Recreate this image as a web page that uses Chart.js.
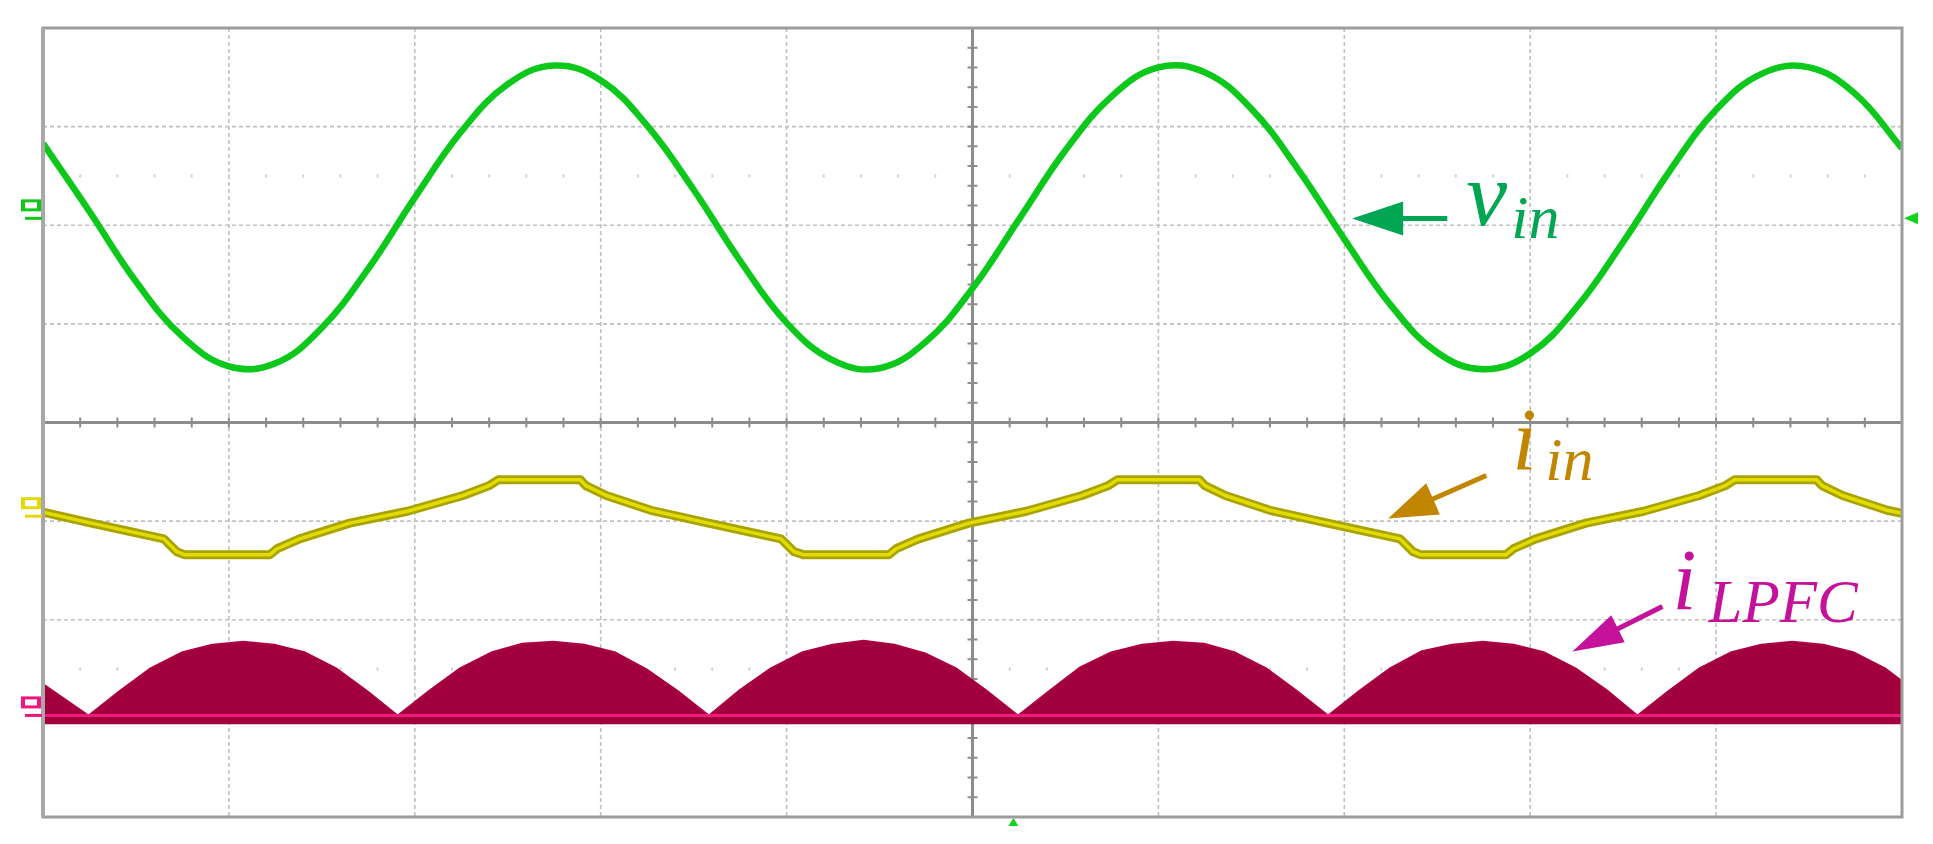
<!DOCTYPE html>
<html>
<head>
    <title>vin / iin / iLPFC</title>
    <script src="https://cdn.jsdelivr.net/npm/chart.js"></script>
    <style>
        body { margin: 0; background: #ffffff; }
        canvas { display: block; }
    </style>
</head>
<body>
    <canvas id="chart" width="1933" height="844"></canvas>

    <script>
        // 时间轴: 0..10 格, 纵轴: -4..4 格
        var vinT = [0, 0.25, 0.5, 0.75, 1, 1.25, 1.5, 1.75, 2, 2.25, 2.5, 2.75, 3, 3.25, 3.5, 3.75, 4, 4.25, 4.5, 4.75,
            5, 5.25, 5.5, 5.75, 6, 6.25, 6.5, 6.75, 7, 7.25, 7.5, 7.75, 8, 8.25, 8.5, 8.75, 9, 9.25, 9.5, 9.75, 10];
        var vinV = [2.83, 2.14, 1.43, 0.87, 0.57, 0.60, 0.96, 1.56, 2.28, 2.95, 3.43, 3.62, 3.47, 3.01, 2.36, 1.64, 1.01, 0.63, 0.55, 0.82,
            1.36, 2.06, 2.76, 3.31, 3.60, 3.55, 3.18, 2.57, 1.86, 1.19, 0.71, 0.54, 0.70, 1.17, 1.83, 2.55, 3.17, 3.54, 3.60, 3.33, 2.78];

        var iinT = [0, 0.26, 0.65, 0.72,
            0.76, 1.22, 1.26, 1.38, 1.65, 1.96, 2.26, 2.40, 2.45, 2.89, 2.92, 3.03, 3.27, 3.58, 3.97, 4.04,
            4.09, 4.55, 4.59, 4.71, 4.98, 5.29, 5.59, 5.73, 5.78, 6.22, 6.25, 6.36, 6.60, 6.91, 7.30, 7.37,
            7.41, 7.87, 7.91, 8.03, 8.30, 8.61, 8.91, 9.05, 9.10, 9.54, 9.57, 9.68, 9.92, 10];
        var iinV = [-0.91, -1.02, -1.18, -1.31,
            -1.34, -1.34, -1.28, -1.18, -1.02, -0.90, -0.74, -0.64, -0.58, -0.58, -0.64, -0.74, -0.89, -1.02, -1.18, -1.31,
            -1.34, -1.34, -1.28, -1.18, -1.02, -0.90, -0.74, -0.64, -0.58, -0.58, -0.64, -0.74, -0.89, -1.02, -1.18, -1.31,
            -1.34, -1.34, -1.28, -1.18, -1.02, -0.90, -0.74, -0.64, -0.58, -0.58, -0.64, -0.74, -0.89, -0.92];

        var lpfcT = [0, 0.245, 0.412, 0.578, 0.745, 0.911, 1.078, 1.244, 1.411, 1.577, 1.744,
            1.908, 2.075, 2.243, 2.410, 2.578, 2.745, 2.912, 3.080, 3.247, 3.415,
            3.582, 3.748, 3.915, 4.081, 4.247, 4.414, 4.580, 4.746, 4.912, 5.079,
            5.245, 5.412, 5.579, 5.745, 5.912, 6.079, 6.246, 6.413, 6.580, 6.746,
            6.913, 7.079, 7.246, 7.412, 7.579, 7.745, 7.911, 8.078, 8.244, 8.411,
            8.577, 8.744, 8.910, 9.077, 9.243, 9.410, 9.576, 9.743, 9.909, 10];
        var lpfcV = [-2.65, -2.97, -2.72, -2.49, -2.33, -2.25, -2.22, -2.25, -2.33, -2.49, -2.72,
            -2.97, -2.72, -2.49, -2.33, -2.24, -2.22, -2.25, -2.33, -2.50, -2.72,
            -2.97, -2.71, -2.49, -2.33, -2.25, -2.21, -2.25, -2.34, -2.49, -2.72,
            -2.97, -2.72, -2.48, -2.33, -2.25, -2.22, -2.24, -2.33, -2.49, -2.72,
            -2.97, -2.72, -2.49, -2.32, -2.25, -2.22, -2.25, -2.33, -2.49, -2.71,
            -2.97, -2.72, -2.49, -2.33, -2.25, -2.22, -2.25, -2.33, -2.49, -2.62];

        // 通道零位
        var baseT = [0, 10];
        var baseV = [-2.97, -2.97];
        var lpfcBottom = -3.06;

        // 网格
        var gridX = [1, 2, 3, 4, 6, 7, 8, 9];
        var gridY = [-3, -2, -1, 1, 2, 3];
        var dotRows = [2.5, -2.5];

        // 通道标记 (电平, 颜色)
        var chLevels = [2.07, -0.95, -2.97];
        var chColors = ["#12c61e", "#e4d800", "#f0147f"];

        // 标注: 箭头尖, 箭尾, 主字, 下标
        var notes = [
            { tip: [7.042, 2.069], tail: [7.554, 2.069], head: 51, half: 17, color: "#00a651",
              main: "v", mainAt: [7.656, 1.998], mainSize: 92, sub: "in", subAt: [7.898, 1.866], subSize: 62 },
            { tip: [7.236, -0.974], tail: [7.764, -0.538], head: 49, half: 17, color: "#c28500",
              main: "i", mainAt: [7.904, -0.467], mainSize: 88, sub: "in", subAt: [8.081, -0.578], subSize: 62 },
            { tip: [8.227, -2.323], tail: [8.711, -1.866], head: 51, half: 15, color: "#c5129a",
              main: "i", mainAt: [8.765, -1.886], mainSize: 86, sub: "LPFC", subAt: [8.959, -2.018], subSize: 61 }
        ];

        function pts(t, v) {
            return t.map(function (x, i) { return { x: x, y: v[i] }; });
        }

        var scopePlugin = {
            id: "scope",
            beforeDatasetsDraw: function (chart) {
                var c = chart.ctx, a = chart.chartArea, xs = chart.scales.x, ys = chart.scales.y;
                c.save();
                // 虚线网格
                c.strokeStyle = "#c0c0c0";
                c.lineWidth = 1.6;
                c.setLineDash([4, 3]);
                gridX.forEach(function (v) {
                    var px = xs.getPixelForValue(v);
                    c.beginPath(); c.moveTo(px, a.top); c.lineTo(px, a.bottom); c.stroke();
                });
                gridY.forEach(function (v) {
                    var py = ys.getPixelForValue(v);
                    c.beginPath(); c.moveTo(a.left, py); c.lineTo(a.right, py); c.stroke();
                });
                c.setLineDash([]);
                // 点行
                c.fillStyle = "#cfcfcf";
                dotRows.forEach(function (r) {
                    var py = ys.getPixelForValue(r);
                    for (var k = 1; k < 50; k++) {
                        c.fillRect(xs.getPixelForValue(k * 0.2) - 1, py - 1.5, 2, 3);
                    }
                });
                // 中心轴
                var cx = xs.getPixelForValue(5), cy = ys.getPixelForValue(0);
                c.strokeStyle = "#8c8c8c";
                c.lineWidth = 3;
                c.beginPath();
                c.moveTo(a.left, cy); c.lineTo(a.right, cy);
                c.moveTo(cx, a.top); c.lineTo(cx, a.bottom);
                c.stroke();
                c.lineWidth = 2;
                c.beginPath();
                for (var i = 1; i < 50; i++) {
                    var px = xs.getPixelForValue(i * 0.2);
                    c.moveTo(px, cy - 5); c.lineTo(px, cy + 5);
                }
                for (var j = 1; j < 40; j++) {
                    var py = ys.getPixelForValue(-4 + j * 0.2);
                    c.moveTo(cx - 5, py); c.lineTo(cx + 5, py);
                }
                c.stroke();
                c.restore();
            },
            afterDatasetsDraw: function (chart) {
                var c = chart.ctx, a = chart.chartArea, xs = chart.scales.x, ys = chart.scales.y;
                c.save();
                // 边框
                c.strokeStyle = "#9c9c9c";
                c.lineWidth = 3;
                c.strokeRect(a.left, a.top, a.right - a.left, a.bottom - a.top);
                c.fillStyle = "#a8a8a8";
                c.fillRect(a.left - 2, a.top, 4, a.bottom - a.top);

                // 通道标记
                chLevels.forEach(function (lv, i) {
                    var py = ys.getPixelForValue(lv);
                    c.fillStyle = chColors[i];
                    c.fillRect(25, py - 1.5, 17, 3);
                    c.fillRect(21, py - 19, 20, 12);
                    c.fillStyle = "#ffffff";
                    c.fillRect(25, py - 16, 12, 6);
                });
                // 触发电平 (右) 与触发位置 (下)
                var ty = ys.getPixelForValue(chLevels[0]);
                c.fillStyle = "#12d41e";
                c.beginPath();
                c.moveTo(a.right + 2, ty); c.lineTo(a.right + 16, ty - 6); c.lineTo(a.right + 16, ty + 6);
                c.closePath(); c.fill();
                var tx = xs.getPixelForValue(5.22);
                c.beginPath();
                c.moveTo(tx, a.bottom + 1); c.lineTo(tx - 5, a.bottom + 9); c.lineTo(tx + 5, a.bottom + 9);
                c.closePath(); c.fill();

                // 标注箭头与文字
                notes.forEach(function (n) {
                    var tpx = xs.getPixelForValue(n.tip[0]), tpy = ys.getPixelForValue(n.tip[1]);
                    var tlx = xs.getPixelForValue(n.tail[0]), tly = ys.getPixelForValue(n.tail[1]);
                    var dx = tlx - tpx, dy = tly - tpy, len = Math.sqrt(dx * dx + dy * dy);
                    var ux = dx / len, uy = dy / len;
                    var bx = tpx + ux * n.head, by = tpy + uy * n.head;
                    c.fillStyle = n.color;
                    c.strokeStyle = n.color;
                    c.beginPath();
                    c.moveTo(tpx, tpy);
                    c.lineTo(bx - uy * n.half, by + ux * n.half);
                    c.lineTo(bx + uy * n.half, by - ux * n.half);
                    c.closePath(); c.fill();
                    c.lineWidth = 5;
                    c.beginPath();
                    c.moveTo(bx - ux * 4, by - uy * 4); c.lineTo(tlx, tly);
                    c.stroke();

                    c.textBaseline = "alphabetic";
                    c.textAlign = "left";
                    c.font = "italic " + n.mainSize + "px 'Liberation Serif', 'DejaVu Serif', serif";
                    c.fillText(n.main, xs.getPixelForValue(n.mainAt[0]), ys.getPixelForValue(n.mainAt[1]));
                    c.font = "italic " + n.subSize + "px 'Liberation Serif', 'DejaVu Serif', serif";
                    c.fillText(n.sub, xs.getPixelForValue(n.subAt[0]), ys.getPixelForValue(n.subAt[1]));
                });
                c.restore();
            }
        };

        var ctx = document.getElementById("chart").getContext("2d");
        var chart = new Chart(ctx, {
            type: "line",
            data: {
                datasets: [
                    { label: "vin", data: pts(vinT, vinV), borderColor: "#0cc81a", borderWidth: 6.5, tension: 0.4 },
                    { label: "iin", data: pts(iinT, iinV), borderColor: "#e2dc00", borderWidth: 3.5, tension: 0 },
                    { label: "iin edge", data: pts(iinT, iinV), borderColor: "#a9a300", borderWidth: 9, tension: 0 },
                    { label: "zero", data: pts(baseT, baseV), borderColor: "#f2177f", borderWidth: 3 },
                    {
                        label: "iLPFC", data: pts(lpfcT, lpfcV), borderColor: "#ad0046", borderWidth: 1.5,
                        backgroundColor: "#a2003d", fill: { value: lpfcBottom }, tension: 0
                    }
                ]
            },
            options: {
                responsive: false,
                animation: false,
                layout: { padding: { left: 43, right: 31, top: 28, bottom: 27 } },
                elements: { point: { radius: 0 }, line: { borderJoinStyle: "round" } },
                plugins: { legend: { display: false }, tooltip: { enabled: false } },
                scales: {
                    x: { type: "linear", min: 0, max: 10, display: false },
                    y: { type: "linear", min: -4, max: 4, display: false }
                }
            },
            plugins: [scopePlugin]
        });
    </script>
</body>
</html>
